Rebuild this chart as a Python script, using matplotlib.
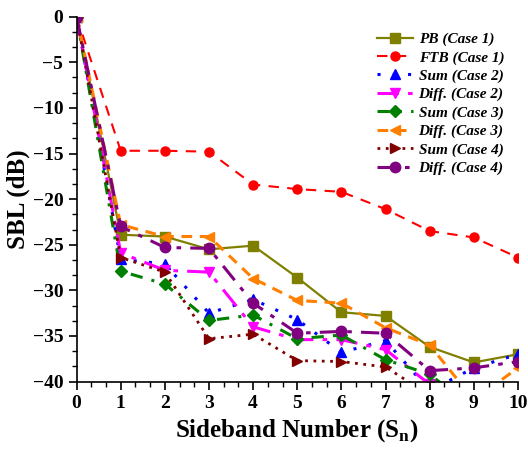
import numpy as np
import matplotlib
matplotlib.use("Agg")
import matplotlib.pyplot as plt
from matplotlib.ticker import MultipleLocator

plt.rcParams['font.family'] = ['Liberation Serif', 'DejaVu Serif']
plt.rcParams['font.weight'] = 'bold'
plt.rcParams['mathtext.fontset'] = 'custom'
plt.rcParams['mathtext.rm'] = 'Liberation Serif:bold'
plt.rcParams['mathtext.bf'] = 'Liberation Serif:bold'

sidebands = np.arange(0, 11)

# SBL values (dB); points below -40 are clipped
pb_case1 = [0, -23.9, -24.1, -25.5, -25.1, -28.6, -32.4, -32.8, -36.2, -37.9, -37.0]
ftb_case1 = [0, -14.7, -14.7, -14.8, -18.4, -18.9, -19.2, -21.1, -23.5, -24.2, -26.4]
sum_case2 = [0, -26.6, -27.1, -32.5, -31.0, -33.2, -36.8, -35.5, -41.0, -38.5, -37.0]
diff_case2 = [0, -25.9, -27.8, -28.0, -34.0, -35.4, -35.4, -36.5, -40.3, -43.0, -42.0]
sum_case3 = [0, -27.9, -29.3, -33.3, -32.7, -35.3, -34.9, -37.6, -39.2, -43.0, -42.0]
diff_case3 = [0, -22.8, -24.1, -24.1, -28.7, -31.1, -31.4, -34.1, -36.0, -42.0, -38.5]
sum_case4 = [0, -26.4, -28.0, -35.3, -34.8, -37.7, -37.8, -38.4, -41.5, -43.0, -42.0]
diff_case4 = [0, -23.0, -25.3, -25.4, -31.4, -34.7, -34.5, -34.7, -38.8, -38.5, -37.8]

fig = plt.figure(figsize=(5.28, 4.5), dpi=100)
ax = fig.add_axes([0.145, 0.152, 0.836, 0.811])

ax.plot(sidebands, pb_case1, color='#808000', linestyle='-', linewidth=1.6,
        marker='s', markersize=6.5, label='PB (Case 1)')
ax.plot(sidebands, ftb_case1, color='#ff0000', linestyle=(0, (5, 4)), linewidth=1.5,
        marker='o', markersize=6.5, label='FTB (Case 1)')
ax.plot(sidebands, sum_case2, color='#0000ff', linestyle=(0, (1, 4)), linewidth=2.2,
        marker='^', markersize=7.5, label='Sum (Case 2)')
ax.plot(sidebands, diff_case2, color='#ff00ff', linestyle=(0, (7, 3, 1.5, 3)), linewidth=2.2,
        marker='v', markersize=7.5, label='Diff. (Case 2)')
ax.plot(sidebands, sum_case3, color='#008000', linestyle=(0, (4, 3, 1, 3)), linewidth=2.2,
        marker='D', markersize=6.5, label='Sum (Case 3)')
ax.plot(sidebands, diff_case3, color='#ff8000', linestyle=(0, (3.5, 2.5)), linewidth=2.2,
        marker='<', markersize=7.5, label='Diff. (Case 3)')
ax.plot(sidebands, sum_case4, color='#800000', linestyle=(0, (1, 2)), linewidth=2.0,
        marker='>', markersize=7.5, label='Sum (Case 4)')
ax.plot(sidebands, diff_case4, color='#800080', linestyle=(0, (6, 3, 1.5, 3)), linewidth=2.2,
        marker='o', markersize=7.5, label='Diff. (Case 4)')

ax.set_xlim(0, 10)
ax.set_ylim(-40, 0)
ax.xaxis.set_major_locator(MultipleLocator(1))
ax.xaxis.set_minor_locator(MultipleLocator(1 / 3))
ax.yaxis.set_major_locator(MultipleLocator(5))
ax.yaxis.set_minor_locator(MultipleLocator(5 / 3))

for side in ['top', 'right']:
    ax.spines[side].set_visible(False)
for side in ['left', 'bottom']:
    ax.spines[side].set_linewidth(1.2)

ax.tick_params(which='major', direction='out', length=6, width=1.2, labelsize=14)
ax.tick_params(which='minor', direction='out', length=3.5, width=1.0)
for lbl in ax.get_xticklabels() + ax.get_yticklabels():
    lbl.set_fontweight('bold')

ax.set_xlabel(r'Sideband Number (S$_\mathbf{n}$)', fontsize=18, fontweight='bold', labelpad=4)
ax.set_ylabel('SBL (dB)', fontsize=18, fontweight='bold', labelpad=2)

leg = ax.legend(loc='upper right', bbox_to_anchor=(1.0, 0.995), frameon=False,
                prop={'weight': 'bold', 'style': 'italic', 'size': 11},
                handlelength=2.4, handletextpad=0.35, labelspacing=0.3)

fig.savefig('out.png', dpi=100)
